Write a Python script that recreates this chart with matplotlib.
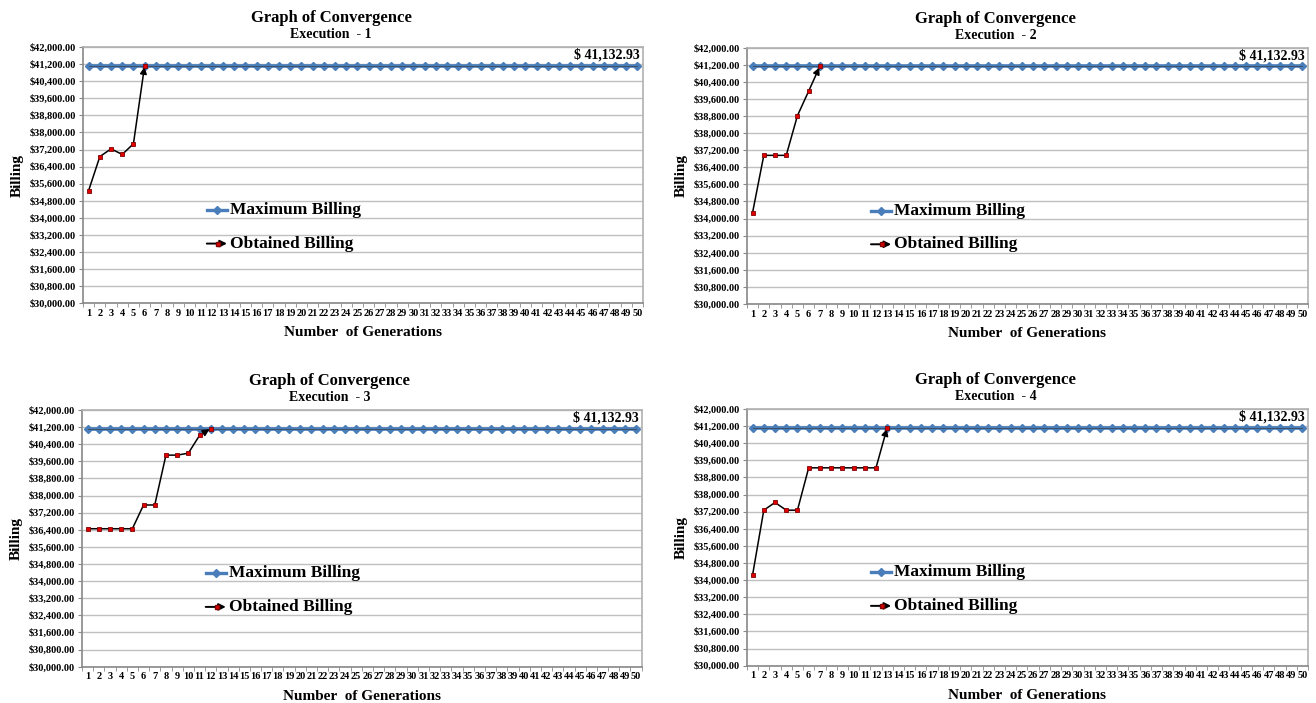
import matplotlib
matplotlib.use("Agg")
import matplotlib.pyplot as plt
import numpy as np
from matplotlib.ticker import FuncFormatter

plt.rcParams["font.family"] = ["Liberation Serif", "DejaVu Serif"]
plt.rcParams["font.weight"] = "bold"

# generations and the best known billing
generations = list(range(1, 51))
max_billing = 41132.93

# obtained billing per generation, one list per execution
exec_1 = [35280, 36870, 37230, 36970, 37470, 41132.93]
exec_2 = [34280, 36960, 36960, 36960, 38820, 39970, 41132.93]
exec_3 = [36450, 36450, 36450, 36450, 36450, 37560, 37560, 39890, 39890, 39980, 40810, 41132.93]
exec_4 = [34240, 37270, 37630, 37270, 37270, 39250, 39250, 39250, 39250, 39250, 39250, 39250, 41132.93]

executions = [exec_1, exec_2, exec_3, exec_4]
exec_titles = ["Execution  - 1", "Execution  - 2", "Execution  - 3", "Execution  - 4"]

# axes rectangles [left, bottom, width, height] in figure fraction
boxes = [
    [0.0631, 0.5686, 0.4255, 0.3645],
    [0.5676, 0.5676, 0.4263, 0.3645],
    [0.0623, 0.0516, 0.4253, 0.3652],
    [0.5676, 0.0531, 0.4263, 0.3651],
]

blue = "#4A7EBB"
y_ticks = np.arange(30000, 42001, 800)

fig = plt.figure(figsize=(13.16, 7.03), dpi=100)

for vals, title, box in zip(executions, exec_titles, boxes):
    ax = fig.add_axes(box)
    ax.set_xlim(0.5, 50.5)
    ax.set_ylim(30000, 42000)

    ax.set_yticks(y_ticks)
    ax.yaxis.set_major_formatter(FuncFormatter(lambda v, p: f"${v:,.2f}"))
    ax.set_xticks(generations)
    ax.set_xticks([g + 0.5 for g in range(0, 51)], minor=True)
    ax.tick_params(axis="x", which="major", length=0, labelsize=7.5, pad=4)
    ax.tick_params(axis="x", which="minor", length=3, color="#888888")
    ax.tick_params(axis="y", which="major", length=3, labelsize=7.5, pad=2, color="#888888")
    for lab in ax.get_xticklabels() + ax.get_yticklabels():
        lab.set_fontweight("bold")

    ax.grid(axis="y", color="#C0C0C0", lw=1)
    ax.set_axisbelow(True)
    for side in ["top", "right"]:
        ax.spines[side].set_color("#B0B0B0")
        ax.spines[side].set_linewidth(1.2)
    for side in ["left", "bottom"]:
        ax.spines[side].set_color("#888888")
        ax.spines[side].set_linewidth(1.2)

    # maximum billing line
    ax.plot(generations, [max_billing] * len(generations), color=blue, lw=2.6,
            marker="D", ms=4, mfc=blue, mec=blue, zorder=3)
    ax.plot(generations, [max_billing] * len(generations), color="#3A4A5A", lw=0.6, zorder=3)

    # obtained billing with an arrow on the final step
    xs = generations[:len(vals)]
    ax.plot(xs[:-1], vals[:-1], color="black", lw=1.1, zorder=4)
    ax.annotate("", xy=(xs[-1], vals[-1]), xytext=(xs[-2], vals[-2]),
                arrowprops=dict(arrowstyle="-|>", color="black", lw=1.1,
                                mutation_scale=10, shrinkA=0, shrinkB=1),
                zorder=5)
    ax.plot(xs, vals, ls="none", marker="s", ms=3.2, mfc="#E00000", mec="#800000",
            mew=0.6, zorder=6)

    ax.text(0.995, 41450, f"$ {max_billing:,.2f}", transform=ax.get_yaxis_transform(),
            ha="right", va="baseline", fontsize=10, fontweight="bold")

    ax.text(0.443, 1.113, "Graph of Convergence", transform=ax.transAxes,
            ha="center", va="center", fontsize=12, fontweight="bold")
    ax.text(0.443, 1.047, title, transform=ax.transAxes,
            ha="center", va="center", fontsize=10, fontweight="bold")

    ax.set_ylabel("Billing", fontsize=11, fontweight="bold", labelpad=4)
    ax.set_xlabel("Number  of Generations", fontsize=11, fontweight="bold", labelpad=6)

    # hand-drawn legend inside the plot area
    ax.plot([0.221, 0.257], [0.364, 0.364], transform=ax.transAxes, color=blue, lw=2.4,
            clip_on=False, zorder=6)
    ax.plot([0.239], [0.364], transform=ax.transAxes, marker="D", ms=4, color=blue,
            ls="none", clip_on=False, zorder=7)
    ax.text(0.262, 0.364, "Maximum Billing", transform=ax.transAxes, ha="left",
            va="center", fontsize=12.5, fontweight="bold")
    ax.annotate("", xy=(0.257, 0.233), xytext=(0.221, 0.233), xycoords="axes fraction",
                arrowprops=dict(arrowstyle="-|>", color="black", lw=1.4,
                                mutation_scale=10, shrinkA=0, shrinkB=0), zorder=6)
    ax.plot([0.241], [0.233], transform=ax.transAxes, marker="s", ms=3.5, mfc="#E00000",
            mec="#800000", ls="none", clip_on=False, zorder=7)
    ax.text(0.262, 0.233, "Obtained Billing", transform=ax.transAxes, ha="left",
            va="center", fontsize=12.5, fontweight="bold")

fig.savefig("out.png", dpi=100)
